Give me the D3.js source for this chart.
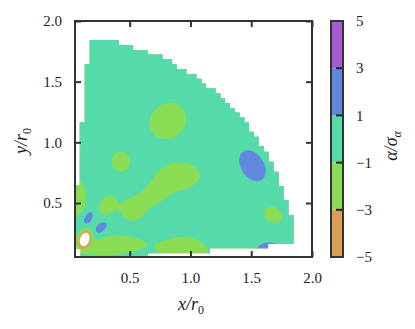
<!DOCTYPE html>
<html>
<head>
<meta charset="utf-8">
<script src="https://cdn.jsdelivr.net/npm/d3@7"></script>
<style>
  body { margin: 0; background: #fff; }
  svg text { font-family: "Liberation Serif", "DejaVu Serif", serif; fill: #222; }
</style>
</head>
<body>
<div id="chart"></div>
<script>
var svgWidth = 415;
var svgHeight = 329;

// colour bands of alpha / sigma_alpha
var levels = [-5, -3, -1, 1, 3, 5];
var levelColors = ["#dca055", "#8adc55", "#55dbaa", "#6089dd", "#a958d6"];

var xTicks = [0.5, 1.0, 1.5, 2.0];
var yTicks = [0.5, 1.0, 1.5, 2.0];

var regionOutline = [
  [0.05, 0.121], [0.05, 0.649], [0.089, 0.649], [0.089, 1.166], [0.130, 1.166], [0.130, 1.644],
  [0.171, 1.644], [0.171, 1.844], [0.410, 1.844], [0.410, 1.803], [0.528, 1.803], [0.528, 1.762],
  [0.649, 1.762], [0.649, 1.723], [0.770, 1.723], [0.770, 1.685], [0.849, 1.685], [0.849, 1.644],
  [0.887, 1.644], [0.887, 1.605], [0.967, 1.605], [0.967, 1.564], [1.049, 1.564], [1.049, 1.525],
  [1.091, 1.525], [1.091, 1.484], [1.126, 1.484], [1.126, 1.446], [1.208, 1.446], [1.208, 1.405],
  [1.247, 1.405], [1.247, 1.364], [1.285, 1.364], [1.285, 1.325], [1.326, 1.325], [1.326, 1.284],
  [1.365, 1.284], [1.365, 1.245], [1.405, 1.245], [1.405, 1.204], [1.444, 1.204], [1.444, 1.166],
  [1.482, 1.166], [1.482, 1.088], [1.523, 1.088], [1.523, 1.047], [1.562, 1.047], [1.562, 0.970],
  [1.603, 0.970], [1.603, 0.923], [1.644, 0.923], [1.644, 0.841], [1.685, 0.841], [1.685, 0.758],
  [1.726, 0.758], [1.726, 0.641], [1.767, 0.641], [1.767, 0.525], [1.807, 0.525], [1.807, 0.401],
  [1.848, 0.401], [1.848, 0.162], [1.639, 0.162], [1.639, 0.127], [1.159, 0.127], [1.159, 0.086],
  [0.651, 0.086], [0.651, 0.05], [0.095, 0.05], [0.095, 0.121]
];

// patches of the map: [x, y, width along axis, width across, axis angle (deg), peak value]
var greenPatches = [
  [0.817, 1.181, 0.130, 0.118, 35, -2],
  [0.780, 1.120, 0.060, 0.050, 0, -0.6],
  [0.427, 0.841, 0.064, 0.070, 0, -2],
  [0.900, 0.720, 0.150, 0.094, 5, -2],
  [0.700, 0.570, 0.100, 0.060, 32, -2],
  [0.525, 0.445, 0.080, 0.074, 20, -2],
  [0.078, 0.540, 0.052, 0.120, 0, -2],
  [0.060, 0.945, 0.034, 0.042, 0, -2],
  [0.312, 0.476, 0.074, 0.052, 60, -2],
  [0.340, 0.150, 0.215, 0.068, 3, -2],
  [0.950, 0.100, 0.160, 0.100, 0, -2],
  [1.677, 0.404, 0.068, 0.052, -40, -2]
];
var bluePatches = [
  [0.157, 0.377, 0.060, 0.032, 60, 2],
  [0.262, 0.294, 0.062, 0.035, 50, 2],
  [1.510, 0.807, 0.118, 0.080, -57, 2],
  [1.640, 0.090, 0.085, 0.072, 0, 2]
];
var deepPatches = [
  [0.130, 0.204, 0.047, 0.031, 70, -9]
];

var xMin = 0.05, xMax = 2.0, yMin = 0.055, yMax = 2.0;

var svg = d3.select("#chart")
  .append("svg")
  .attr("width", svgWidth)
  .attr("height", svgHeight);

var x = d3.scaleLinear().domain([xMin, xMax]).range([75, 312]);
var y = d3.scaleLinear().domain([yMin, yMax]).range([257, 21]);

// build the grid of alpha/sigma values
var patches = greenPatches.concat(bluePatches, deepPatches);
var nx = 300, ny = 300;
var gx = d3.scaleLinear().domain([0, nx]).range([xMin, xMax]);
var gy = d3.scaleLinear().domain([0, ny]).range([yMax, yMin]);

function valueAt(px, py) {
  var v = 0;
  patches.forEach(function(p) {
    var a = p[4] * Math.PI / 180;
    var dx = px - p[0], dy = py - p[1];
    var u = dx * Math.cos(a) + dy * Math.sin(a);
    var w = -dx * Math.sin(a) + dy * Math.cos(a);
    v += p[5] * Math.exp(-0.5 * (u * u / (p[2] * p[2]) + w * w / (p[3] * p[3])));
  });
  return v;
}

var grid = new Array(nx * ny);
for (var j = 0; j < ny; j++) {
  for (var i = 0; i < nx; i++) {
    grid[i + j * nx] = valueAt(gx(i + 0.5), gy(j + 0.5));
  }
}

var bands = d3.contours()
  .size([nx, ny])
  .thresholds(levels.slice(0, 5))(grid);

var proj = d3.geoTransform({
  point: function(a, b) { this.stream.point(x(gx(a)), y(gy(b))); }
});
var path = d3.geoPath(proj);

svg.append("clipPath")
  .attr("id", "region")
  .append("path")
  .attr("d", d3.line().x(d => x(d[0])).y(d => y(d[1])).curve(d3.curveLinearClosed)(regionOutline));

svg.append("g")
  .attr("clip-path", "url(#region)")
  .selectAll("path")
  .data(bands)
  .enter()
  .append("path")
  .attr("d", path)
  .attr("fill", (d, k) => levelColors[k]);

// axes, ticks pointing inward on all four sides
var bottomAxis = d3.axisBottom(x).tickValues(xTicks).tickFormat(d3.format(".1f"))
  .tickSizeInner(-6).tickSizeOuter(0).tickPadding(15);
var topAxis = d3.axisTop(x).tickValues(xTicks).tickFormat("").tickSizeInner(-6).tickSizeOuter(0);
var leftAxis = d3.axisLeft(y).tickValues(yTicks).tickFormat(d3.format(".1f"))
  .tickSizeInner(-6).tickSizeOuter(0).tickPadding(13);
var rightAxis = d3.axisRight(y).tickValues(yTicks).tickFormat("").tickSizeInner(-6).tickSizeOuter(0);

function styleAxis(g) {
  g.attr("font-family", null);
  g.select(".domain").remove();
  g.selectAll("line").attr("stroke", "#333").attr("stroke-width", 2);
  g.selectAll("text").attr("font-size", 15).attr("fill", "#222");
}

svg.append("g").attr("transform", "translate(0,257)").call(bottomAxis).call(styleAxis);
svg.append("g").attr("transform", "translate(0,21)").call(topAxis).call(styleAxis);
svg.append("g").attr("transform", "translate(75,0)").call(leftAxis).call(styleAxis);
svg.append("g").attr("transform", "translate(312,0)").call(rightAxis).call(styleAxis);

svg.append("rect")
  .attr("x", 75).attr("y", 21)
  .attr("width", 237).attr("height", 236)
  .attr("fill", "none")
  .attr("stroke", "#333")
  .attr("stroke-width", 2);

// axis titles
var xTitle = svg.append("text")
  .attr("x", 191).attr("y", 310)
  .attr("text-anchor", "middle")
  .attr("font-size", 18);
xTitle.append("tspan").attr("font-style", "italic").text("x");
xTitle.append("tspan").attr("font-style", "italic").text("/");
xTitle.append("tspan").attr("font-style", "italic").text("r");
xTitle.append("tspan").attr("font-size", 12).attr("dy", 4).text("0");

var yTitle = svg.append("text")
  .attr("transform", "translate(27,141) rotate(-90)")
  .attr("text-anchor", "middle")
  .attr("font-size", 18);
yTitle.append("tspan").attr("font-style", "italic").text("y");
yTitle.append("tspan").attr("font-style", "italic").text("/");
yTitle.append("tspan").attr("font-style", "italic").text("r");
yTitle.append("tspan").attr("font-size", 12).attr("dy", 4).text("0");

// colour bar
var cbar = d3.scaleLinear().domain([-5, 5]).range([257, 21]);
var cbarGroup = svg.append("g");

cbarGroup.selectAll("rect")
  .data(levelColors)
  .enter()
  .append("rect")
  .attr("x", 331)
  .attr("width", 12)
  .attr("y", (d, k) => cbar(levels[k + 1]))
  .attr("height", (d, k) => cbar(levels[k]) - cbar(levels[k + 1]))
  .attr("fill", d => d);

cbarGroup.selectAll("line")
  .data(levels.slice(1, 5))
  .enter()
  .append("line")
  .attr("x1", 336).attr("x2", 343)
  .attr("y1", d => cbar(d)).attr("y2", d => cbar(d))
  .attr("stroke", "#222").attr("stroke-width", 2);

cbarGroup.append("rect")
  .attr("x", 331).attr("y", 21)
  .attr("width", 12).attr("height", 236)
  .attr("fill", "none")
  .attr("stroke", "#333")
  .attr("stroke-width", 2);

cbarGroup.selectAll("text")
  .data(levels)
  .enter()
  .append("text")
  .attr("x", 356)
  .attr("y", d => cbar(d))
  .attr("dy", "0.35em")
  .attr("font-size", 15)
  .text(d => d < 0 ? "\u2212" + Math.abs(d) : d);

var cTitle = svg.append("text")
  .attr("transform", "translate(397,146) rotate(-90)")
  .attr("text-anchor", "middle")
  .attr("font-size", 18);
cTitle.append("tspan").attr("font-style", "italic").text("\u03b1");
cTitle.append("tspan").attr("font-style", "italic").text("/");
cTitle.append("tspan").attr("font-style", "italic").text("\u03c3");
cTitle.append("tspan").attr("font-style", "italic").attr("font-size", 12).attr("dy", 4).text("\u03b1");
</script>
</body>
</html>
